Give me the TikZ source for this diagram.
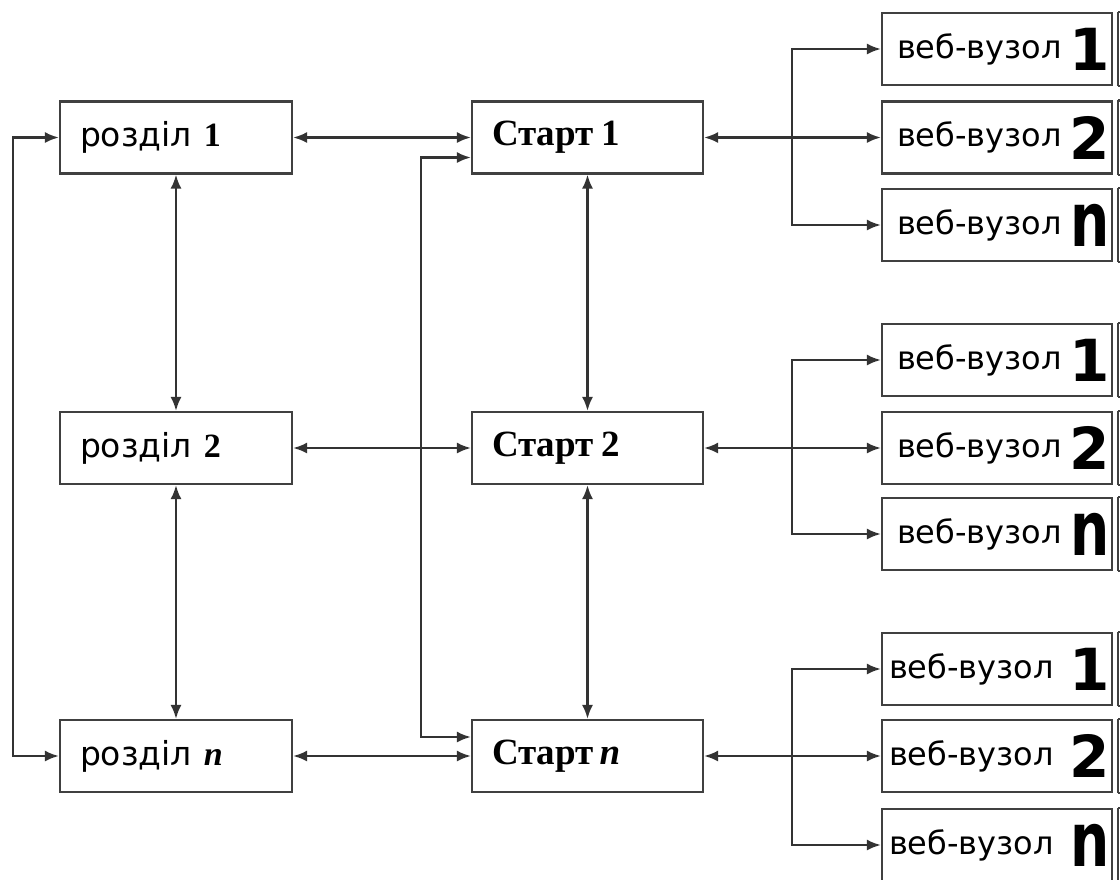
\documentclass[tikz,border=0pt]{standalone}
\usepackage{fontspec}
\setmainfont{Liberation Serif}
\newfontfamily\dvsfont{DejaVu Sans}
\usetikzlibrary{arrows.meta}
\newcommand\rzfont{\fontsize{33pt}{36pt}\dvsfont}
\newcommand\stfont{\fontsize{37pt}{40pt}\selectfont\rmfamily\bfseries}
\newcommand\wfont{\fontsize{32pt}{34pt}\dvsfont}
\newcommand\bignum[1]{{\fontsize{58pt}{60pt}\dvsfont\bfseries #1}}
\newcommand\bign{\scalebox{0.95}[1.3]{\fontsize{58pt}{60pt}\dvsfont\bfseries n}}
\newcommand\sernum[1]{\hspace{12pt}{\fontsize{34pt}{36pt}\selectfont\rmfamily\bfseries #1}}
\begin{document}
\begin{tikzpicture}[x=1pt,y=-1pt,
  box/.style={draw=black!75, line width=2.2pt, rectangle, inner sep=0pt, minimum height=72pt},
  rbox/.style={box, minimum width=232pt, text width=192pt, align=left},
  sbox/.style={box, minimum width=231pt, text width=191pt, align=left},
  wbox/.style={box, minimum width=230pt},
  wlab/.style={anchor=west, inner sep=0pt, font=\wfont},
  wnum/.style={anchor=east, inner sep=0pt},
  conn/.style={draw=black!80, line width=2.2pt},
  tip/.style={-{Latex[length=14pt,width=11pt]}},
  tips/.style={{Latex[length=14pt,width=11pt]}-{Latex[length=14pt,width=11pt]}}]
\fill[white] (0,0) rectangle (1120,879);
\useasboundingbox (0,0) rectangle (1120,879);

% left column
\node[rbox] (r1) at (176,137.5) {\rzfont розділ\sernum{1}};
\node[rbox] (r2) at (176,448) {\rzfont розділ\sernum{2}};
\node[rbox] (rn) at (176,756) {\rzfont розділ\sernum{\itshape n}};

% middle column
\node[sbox] (s1) at (587.5,137.5) {\stfont Старт\hspace{8pt}1};
\node[sbox] (s2) at (587.5,448) {\stfont Старт\hspace{8pt}2};
\node[sbox] (sn) at (587.5,756) {\stfont Старт\hspace{6pt}\textit{n}};

% web nodes
\foreach \g/\ya/\yb/\yc/\dx in {a/49/137.5/225/0, b/360/448/534/0, c/669/756/845/-8}{
  \node[wbox] (\g1) at (997,\ya) {};
  \node[wbox] (\g2) at (997,\yb) {};
  \node[wbox] (\g3) at (997,\yc) {};
  \foreach \k in {1,2,3}{
    \node[wlab] (\g\k t) at ([xshift={16pt+\dx pt}]\g\k.west) {веб-вузол};
    \draw[draw=black!75, line width=2.2pt] ([xshift=5pt]\g\k.north east) -- ([xshift=5pt]\g\k.south east);
    \draw[draw=black!75, line width=2.2pt] ([xshift=5pt]\g\k.north east) -- ++(12,0);
    \draw[draw=black!75, line width=2.2pt] ([xshift=5pt]\g\k.south east) -- ++(12,0);
  }
  \node[wnum] (\g1n) at ([xshift=-3pt]\g1.east) {\bignum{1}};
  \node[wnum] (\g2n) at ([xshift=-3pt]\g2.east) {\bignum{2}};
  \node[wnum] (\g3n) at ([xshift=-3pt]\g3.east) {\bign};
}

% horizontal links
\draw[conn,tips] (r1.east) -- (s1.west);
\draw[conn,tips] (r2.east) -- (s2.west);
\draw[conn,tips] (rn.east) -- (sn.west);

% vertical links
\draw[conn,tips] (r1.south) -- (r2.north);
\draw[conn,tips] (r2.south) -- (rn.north);
\draw[conn,tips] (s1.south) -- (s2.north);
\draw[conn,tips] (s2.south) -- (sn.north);

% loops
\draw[conn,tips] (r1.west) -- ++(-46,0) |- (rn.west);
\draw[conn,tips] ([yshift=-20pt]s1.west) -- ++(-50,0) |- ([yshift=19pt]sn.west);

% branches to web nodes
\coordinate (ba) at (792,137.5);
\coordinate (bb) at (792,448);
\coordinate (bc) at (792,756);
\draw[conn,tips] (s1.east) -- (a2.west);
\draw[conn,tip] (ba) |- (a1.west);
\draw[conn,tip] (ba) |- (a3.west);
\draw[conn,tips] (s2.east) -- (b2.west);
\draw[conn,tip] (bb) |- (b1.west);
\draw[conn,tip] (bb) |- (b3.west);
\draw[conn,tips] (sn.east) -- (c2.west);
\draw[conn,tip] (bc) |- (c1.west);
\draw[conn,tip] (bc) |- (c3.west);
\end{tikzpicture}
\end{document}
